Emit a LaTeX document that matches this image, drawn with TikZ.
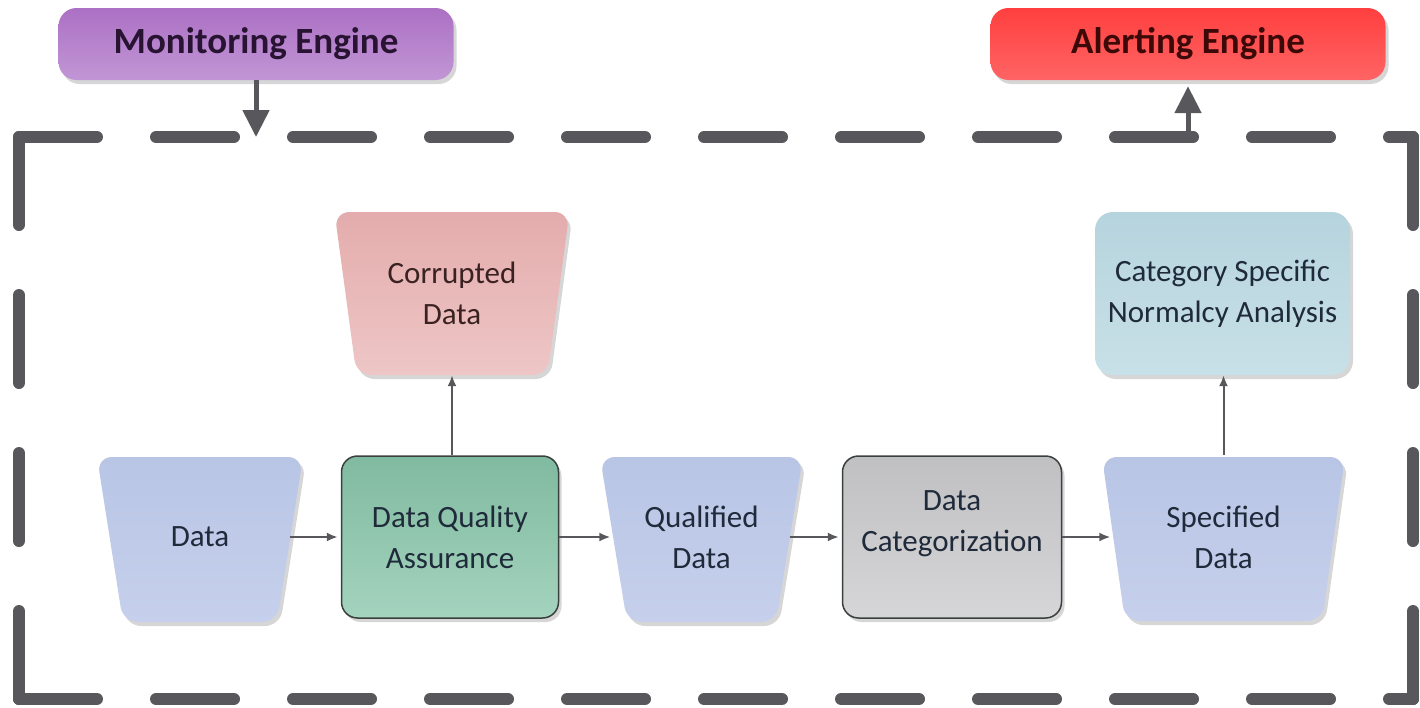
\documentclass[tikz,border=0pt]{standalone}
\usepackage{fontspec}
\setmainfont{Carlito}
\usetikzlibrary{shapes.geometric,arrows.meta,shadows,calc}
\definecolor{frame}{HTML}{58585C}
\definecolor{txtc}{HTML}{1F2A3A}
\definecolor{purA}{HTML}{AC70C4}
\definecolor{purB}{HTML}{C196D5}
\definecolor{redA}{HTML}{FF3F3F}
\definecolor{redB}{HTML}{FF6464}
\definecolor{bluA}{HTML}{B8C5E5}
\definecolor{bluB}{HTML}{C6D0EC}
\definecolor{grnA}{HTML}{80BAA0}
\definecolor{grnB}{HTML}{A4D3BE}
\definecolor{gryA}{HTML}{C0C0C3}
\definecolor{gryB}{HTML}{D6D6D8}
\definecolor{pnkA}{HTML}{E4ACAC}
\definecolor{pnkB}{HTML}{EEC6C6}
\definecolor{cynA}{HTML}{B6D4DE}
\definecolor{cynB}{HTML}{C8E0E7}
\definecolor{bordc}{HTML}{3A403D}
% trapezoid backdrop: centre x, top y, top width, height, inset, colour A, colour B
\newcommand{\trapback}[7]{%
  \path[softshadow, rounded corners=15pt, top color=#6, bottom color=#7]
    (#1-#3/2, #2) -- (#1+#3/2, #2) -- (#1+#3/2-#5, #2+#4) -- (#1-#3/2+#5, #2+#4) -- cycle;}
\begin{document}
\begin{tikzpicture}[x=1pt,y=-1pt,
  softshadow/.style={drop shadow={shadow xshift=3pt,shadow yshift=-4pt,opacity=0.16,fill=black}},
  bodytext/.style={font=\fontsize{31}{41}\selectfont, text=txtc, align=center},
  trapnode/.style={rectangle, inner sep=0pt, bodytext},
  procbox/.style={rectangle, rounded corners=16pt, draw=bordc, line width=1.5pt,
    minimum width=217pt, minimum height=162pt, inner sep=0pt, softshadow, bodytext},
  titlebox/.style={rectangle, rounded corners=18pt, minimum width=395pt,
    minimum height=72pt, inner sep=0pt, softshadow,
    font=\bfseries\fontsize{37}{44}\selectfont},
  dashside/.style={draw=frame, line width=12pt, line cap=round},
  flow/.style={draw=frame, line width=2pt, shorten >=3pt, -{Latex[length=11pt,width=9pt]}},
  bigflow/.style={draw=frame, line width=5pt, -{Triangle[length=27pt,width=26pt]}}
]
\useasboundingbox (0,0) rectangle (1420,707);

% dashed frame
\draw[dashside, dash pattern=on 78pt off 59pt] (19,137) -- (1413,137);
\draw[dashside, dash pattern=on 78pt off 59pt] (19,699) -- (1413,699);
\draw[dashside, dash pattern=on 88pt off 70pt] (19,137) -- (19,699);
\draw[dashside, dash pattern=on 88pt off 70pt] (1413,137) -- (1413,699);

% title boxes
\node[titlebox, top color=purA, bottom color=purB, text={rgb,255:red,40;green,20;blue,50}] (mon) at (256,44) {Monitoring Engine};
\node[titlebox, top color=redA, bottom color=redB, text={rgb,255:red,60;green,8;blue,8}] (alt) at (1188,44) {Alerting Engine};
\coordinate (monend) at (256,137);
\coordinate (altstart) at (1188,137);
\draw[bigflow] (mon.south) -- (monend);
\draw[bigflow] (altstart) -- ([yshift=-6pt]alt.south);

% trapezoid backdrops
\trapback{200}{457}{206}{165}{26}{bluA}{bluB}
\trapback{701.5}{457}{203}{165}{27}{bluA}{bluB}
\trapback{1223.5}{457}{243}{164}{23}{bluA}{bluB}
\trapback{452}{212}{235}{163}{22}{pnkA}{pnkB}

% main row
\node[trapnode, minimum width=180pt, minimum height=162pt] (data) at (200,537) {Data};
\node[procbox, top color=grnA, bottom color=grnB] (dqa) at (450,537) {Data Quality\\Assurance};
\node[trapnode, minimum width=176pt, minimum height=162pt] (qual) at (701.5,537) {Qualified\\Data};
\node[procbox, minimum width=219pt, top color=gryA, bottom color=gryB] (dc) at (952,537) {};
\node[bodytext] (dctext) at (952,524) {Data\\Categorization};
\node[trapnode, minimum width=220pt, minimum height=160pt] (spec) at (1223.5,537) {Specified\\Data};

% upper row
\node[trapnode, minimum width=213pt, minimum height=163pt,
  text={rgb,255:red,58;green,34;blue,34}] (cor) at (452,293.5) {Corrupted\\Data};
\node[rectangle, rounded corners=18pt, minimum width=255pt, minimum height=163pt,
  inner sep=0pt, softshadow, bodytext, top color=cynA, bottom color=cynB] (csna) at (1222.5,293.5)
  {Category Specific\\Normalcy Analysis};

% connectors
\draw[flow] (data) -- (dqa);
\draw[flow] (dqa) -- (qual);
\draw[flow] (qual) -- (dc);
\draw[flow] (dc) -- (spec);
\draw[flow, shorten >=0pt] (dqa.north -| cor) -- (cor.south);
\draw[flow, shorten >=0pt] ([yshift=2pt]spec.north) -- (spec.north |- csna.south);
\end{tikzpicture}
\end{document}
